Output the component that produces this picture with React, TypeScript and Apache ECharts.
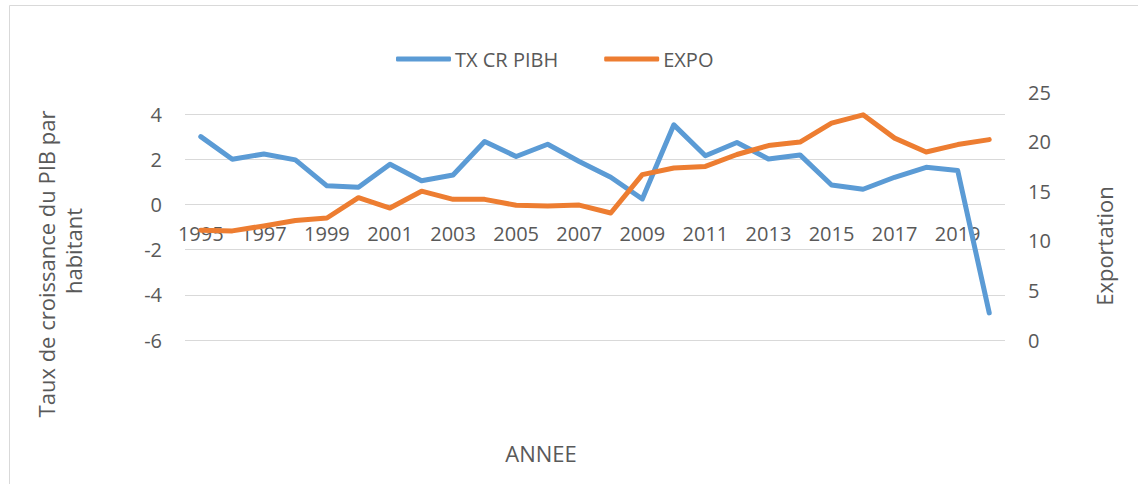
import React, { useEffect, useRef } from "react";
import * as echarts from "echarts";

const years = ["1995","1996","1997","1998","1999","2000","2001","2002","2003","2004","2005","2006","2007","2008","2009","2010","2011","2012","2013","2014","2015","2016","2017","2018","2019","2020"];
const txCrPibh = [3.0, 2.0, 2.23, 1.97, 0.82, 0.76, 1.78, 1.05, 1.3, 2.78, 2.12, 2.66, 1.9, 1.2, 0.24, 3.52, 2.15, 2.74, 2.01, 2.19, 0.86, 0.67, 1.2, 1.64, 1.5, -4.8];
const expo = [11.07, 11.0, 11.5, 12.04, 12.3, 14.35, 13.3, 15.0, 14.18, 14.18, 13.58, 13.5, 13.6, 12.8, 16.67, 17.34, 17.5, 18.7, 19.6, 19.95, 21.86, 22.7, 20.35, 18.95, 19.7, 20.2];
const seriesNames = ["TX CR PIBH", "EXPO"];

const FONT = "'Open Sans', sans-serif";
const TXT = "#595959";
const GRID = "#d9d9d9";

export default function App() {
  const ref = useRef<HTMLDivElement>(null);
  useEffect(() => {
    if (!ref.current) return;
    const chart = echarts.init(ref.current, null, { renderer: "svg" });
    chart.setOption({
      animation: false,
      textStyle: { fontFamily: FONT, color: TXT },
      color: ["#5B9BD5", "#ED7D31"],
      legend: {
        left: 391,
        top: 44,
        icon: "roundRect",
        itemWidth: 55,
        itemHeight: 5,
        itemGap: 46,
        textStyle: { fontFamily: FONT, fontSize: 20, color: TXT, padding: [0, 0, 0, -1] },
        data: seriesNames,
      },
      grid: [
        { left: 185, right: 133, top: 114, bottom: 144 },
        { left: 185, right: 133, top: 92, bottom: 144 },
      ],
      xAxis: [
        {
          type: "category",
          gridIndex: 0,
          data: years,
          boundaryGap: true,
          position: "bottom",
          offset: -135.5,
          axisLine: { show: false, onZero: false },
          axisTick: { show: false },
          axisLabel: { interval: 1, margin: 19, fontSize: 20, color: TXT, fontFamily: FONT },
        },
        {
          type: "category",
          gridIndex: 1,
          data: years,
          boundaryGap: true,
          show: false,
        },
      ],
      yAxis: [
        {
          type: "value",
          gridIndex: 0,
          min: -6,
          max: 4,
          interval: 2,
          axisLine: { show: false },
          axisTick: { show: false },
          axisLabel: { margin: 23, fontSize: 20, color: TXT, fontFamily: FONT },
          splitLine: { show: true, lineStyle: { color: GRID, width: 1 } },
        },
        {
          type: "value",
          gridIndex: 1,
          position: "right",
          min: 0,
          max: 25,
          interval: 5,
          axisLine: { show: false },
          axisTick: { show: false },
          axisLabel: { margin: 23, fontSize: 20, color: TXT, fontFamily: FONT },
          splitLine: { show: false },
        },
      ],
      series: [
        {
          name: seriesNames[0],
          type: "line",
          xAxisIndex: 0,
          yAxisIndex: 0,
          data: txCrPibh,
          symbol: "none",
          lineStyle: { width: 5, cap: "round", join: "round", color: "#5B9BD5" },
        },
        {
          name: seriesNames[1],
          type: "line",
          xAxisIndex: 1,
          yAxisIndex: 1,
          data: expo,
          symbol: "none",
          lineStyle: { width: 5, cap: "round", join: "round", color: "#ED7D31" },
        },
      ],
      graphic: [
        {
          type: "rect",
          shape: { x: 9.5, y: 5.5, width: 1140, height: 490 },
          style: { fill: "none", stroke: GRID, lineWidth: 1 },
          silent: true,
        },
        {
          type: "text",
          x: 46,
          y: 264,
          rotation: Math.PI / 2,
          style: { text: "Taux de croissance du PIB par", fontSize: 22, fontFamily: FONT, fill: TXT, align: "center", verticalAlign: "middle" },
        },
        {
          type: "text",
          x: 73,
          y: 251,
          rotation: Math.PI / 2,
          style: { text: "habitant", fontSize: 22, fontFamily: FONT, fill: TXT, align: "center", verticalAlign: "middle" },
        },
        {
          type: "text",
          x: 1104,
          y: 246,
          rotation: Math.PI / 2,
          style: { text: "Exportation", fontSize: 22, fontFamily: FONT, fill: TXT, align: "center", verticalAlign: "middle" },
        },
        {
          type: "text",
          x: 541,
          y: 453,
          style: { text: "ANNEE", fontSize: 22, fontFamily: FONT, fill: TXT, align: "center", verticalAlign: "middle" },
        },
      ],
    });
    return () => chart.dispose();
  }, []);
  return <div ref={ref} style={{ position: "absolute", left: 0, top: 0, width: 1138, height: 484 }} />;
}
